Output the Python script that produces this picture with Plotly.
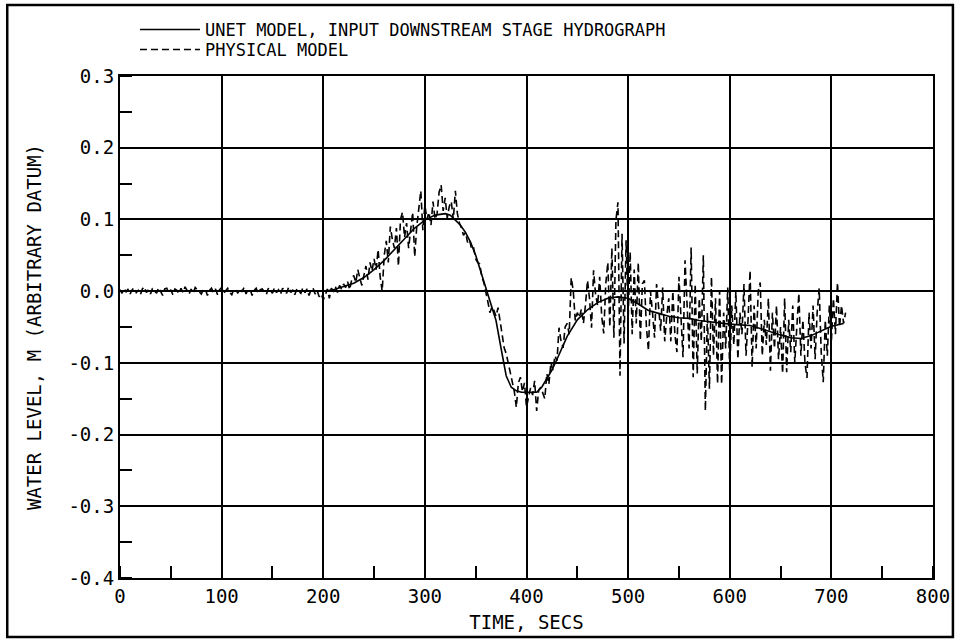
import plotly.graph_objects as go

# ---------------- data ----------------
# Physical model water level (m), sampled every 2 s from 0 to 714 s
phys_t = list(range(0, 716, 2))
phys_y = [
    # 0-198
    0.002, -0.003, 0.004, -0.001, 0.003, -0.004, 0.002, 0.005, -0.002, 0.001,
    -0.005, 0.003, 0.006, -0.002, 0.002, -0.004, 0.004, 0.001, -0.003, 0.005,
    0.000, -0.006, 0.003, 0.004, -0.002, 0.002, -0.005, 0.003, 0.001, -0.003,
    0.004, -0.002, 0.006, 0.000, -0.004, 0.003, -0.003, 0.005, 0.002, -0.001,
    -0.004, 0.002, 0.003, -0.006, 0.001, 0.004, -0.002, 0.003, -0.005, 0.002,
    0.005, -0.003, 0.001, 0.004, -0.002, -0.005, 0.003, 0.002, -0.003, 0.004,
    -0.001, 0.005, -0.004, 0.002, 0.003, -0.006, 0.001, 0.004, -0.003, 0.002,
    0.003, -0.002, -0.005, 0.004, 0.001, -0.003, 0.005, -0.002, 0.002, -0.004,
    0.004, 0.001, -0.003, 0.006, -0.002, 0.002, -0.005, 0.003, 0.000, -0.003,
    0.005, -0.002, 0.003, -0.006, 0.002, 0.004, -0.004, 0.001, -0.008, -0.004,
    # 200-478
    -0.012, -0.006, 0.003, -0.010, 0.004, 0.000, 0.006, -0.002, 0.008, 0.003,
    0.010, 0.005, 0.013, 0.002, 0.016, 0.022, 0.012, 0.030, 0.018, 0.008,
    0.022, 0.035, 0.016, 0.040, 0.028, 0.045, 0.030, 0.058, 0.020, 0.000,
    0.050, 0.070, 0.040, 0.090, 0.072, 0.060, 0.088, 0.035, 0.100, 0.110,
    0.075, 0.095, 0.060, 0.085, 0.110, 0.048, 0.090, 0.115, 0.140, 0.085,
    0.120, 0.100, 0.110, 0.092, 0.125, 0.100, 0.108, 0.138, 0.148, 0.112,
    0.130, 0.102, 0.118, 0.125, 0.100, 0.140, 0.108, 0.095, 0.088, 0.078,
    0.082, 0.068, 0.072, 0.058, 0.060, 0.045, 0.040, 0.038, 0.020, 0.012,
    0.000, -0.015, -0.030, -0.022, -0.027, -0.035, -0.023, -0.045, -0.060, -0.079,
    -0.087, -0.100, -0.115, -0.130, -0.140, -0.162, -0.128, -0.120, -0.140, -0.128,
    -0.162, -0.148, -0.135, -0.145, -0.125, -0.167, -0.138, -0.134, -0.143, -0.150,
    -0.115, -0.130, -0.100, -0.110, -0.090, -0.097, -0.051, -0.070, -0.079, -0.050,
    -0.045, -0.060, 0.019, 0.001, -0.041, -0.030, -0.037, -0.025, -0.045, -0.020,
    0.015, -0.010, -0.051, 0.029, -0.005, -0.020, 0.020, -0.035, -0.059, 0.010,
    # 480-714
    0.040, -0.050, 0.060, -0.065, 0.099, 0.124, -0.118, 0.080, -0.073, 0.071,
    -0.040, 0.055, -0.060, 0.030, -0.045, 0.040, -0.069, 0.010, 0.015, -0.050,
    -0.083, 0.000, -0.030, -0.065, 0.010, -0.020, -0.055, 0.005, -0.070, -0.035,
    -0.010, -0.070, 0.000, -0.060, -0.085, 0.020, -0.040, -0.092, 0.043, -0.030,
    -0.080, 0.061, -0.120, 0.010, -0.115, -0.010, -0.070, 0.050, -0.167, -0.030,
    -0.136, 0.020, -0.090, -0.010, -0.129, 0.000, -0.130, -0.030, -0.080, 0.005,
    -0.115, -0.020, -0.075, 0.000, -0.095, -0.030, -0.060, 0.010, -0.090, -0.040,
    0.029, -0.106, -0.020, -0.080, 0.000, 0.012, -0.090, -0.040, -0.075, -0.010,
    -0.111, -0.030, -0.080, -0.020, -0.095, -0.050, -0.115, -0.010, -0.113, -0.040,
    -0.085, -0.020, -0.100, -0.050, -0.003, -0.090, -0.040, -0.100, -0.121, -0.030,
    -0.080, -0.020, -0.095, -0.030, 0.004, -0.085, -0.127, -0.040, -0.090, -0.020,
    -0.070, -0.010, -0.060, 0.012, -0.050, -0.020, -0.045, -0.030,
]

# UNET model, input downstream stage hydrograph
unet_t = [0, 50, 100, 150, 200, 205, 210, 215, 220, 225, 230,
          240, 250, 260, 270, 280, 290, 300, 310, 320,
          325, 330, 335, 340, 345, 350, 355, 360, 365, 370, 375, 380, 385,
          390, 395, 400, 405, 410, 415, 420, 425, 430, 435, 440,
          450, 460, 470, 480, 490, 500, 510, 520, 530, 540, 550, 560, 570,
          580, 590, 600, 610, 620, 630, 640, 650, 660, 670, 680, 690, 700, 712]
unet_y = [0.0, 0.0, 0.0, 0.0, 0.0, 0.001, 0.002, 0.004, 0.006, 0.008, 0.011,
          0.019, 0.030, 0.043, 0.058, 0.073, 0.088, 0.099, 0.106, 0.108,
          0.106, 0.099, 0.092, 0.082, 0.068, 0.050, 0.027, 0.003, -0.019, -0.041, -0.080, -0.118, -0.134,
          -0.139, -0.141, -0.141, -0.141, -0.141, -0.134, -0.122, -0.110, -0.095, -0.080, -0.063,
          -0.040, -0.026, -0.016, -0.010, -0.008, -0.010, -0.018, -0.027, -0.031, -0.035, -0.037, -0.038, -0.041,
          -0.043, -0.045, -0.046, -0.047, -0.048, -0.052, -0.057, -0.061, -0.065, -0.066, -0.062, -0.055, -0.049, -0.045]

x_tickvals = [0, 100, 200, 300, 400, 500, 600, 700, 800]
x_ticktext = ["0", "100", "200", "300", "400", "500", "600", "700", "800"]
y_tickvals = [0.3, 0.2, 0.1, 0.0, -0.1, -0.2, -0.3, -0.4]
y_ticktext = ["0.3", "0.2", "0.1", "0.0", "-0.1", "-0.2", "-0.3", "-0.4"]

FONT = "DejaVu Sans Mono"
FS = 19
LFS = 17

fig = go.Figure()
fig.add_trace(go.Scatter(
    x=unet_t, y=unet_y, mode="lines",
    name="UNET MODEL, INPUT DOWNSTREAM STAGE HYDROGRAPH",
    line=dict(color="black", width=1.6),
    legend="legend",
))
fig.add_trace(go.Scatter(
    x=phys_t, y=phys_y, mode="lines",
    name="PHYSICAL MODEL",
    line=dict(color="black", width=1.6, dash="7px,4px"),
    legend="legend2",
))

axis_common = dict(
    showline=True, linecolor="black", linewidth=2, mirror=True,
    showgrid=True, gridcolor="black", gridwidth=1.5,
    zeroline=False, ticks="", color="black",
    tickfont=dict(family=FONT, size=FS, color="black"),
)

fig.update_xaxes(
    range=[0, 800], tickvals=x_tickvals, ticktext=x_ticktext,
    title=dict(text="TIME, SECS", font=dict(family=FONT, size=FS, color="black"), standoff=10),
    minor=dict(ticks="inside", dtick=50, tick0=0, ticklen=12, tickwidth=1.5,
               tickcolor="black", showgrid=False),
    **axis_common,
)
fig.update_yaxes(
    range=[-0.4, 0.3], tickvals=y_tickvals, ticktext=y_ticktext,
    title=dict(text="WATER LEVEL, M (ARBITRARY DATUM)", font=dict(family=FONT, size=FS, color="black"), standoff=22),
    minor=dict(ticks="inside", dtick=0.05, tick0=0, ticklen=12, tickwidth=1.5,
               tickcolor="black", showgrid=False),
    **axis_common,
)

legend_common = dict(
    xanchor="left", yanchor="middle",
    font=dict(family=FONT, size=LFS, color="black"),
    bgcolor="rgba(0,0,0,0)", itemwidth=60,
)

fig.update_layout(
    width=962, height=643,
    margin=dict(l=120, r=27, t=76, b=65),
    paper_bgcolor="white", plot_bgcolor="white",
    font=dict(family=FONT, size=FS, color="black"),
    showlegend=True,
    legend=dict(x=0.0184, y=1.0916, **legend_common),
    legend2=dict(x=0.0184, y=1.0518, **legend_common),
    shapes=[dict(
        type="rect", xref="paper", yref="paper",
        x0=-0.1387, x1=1.0245, y0=-0.1175, y1=1.1414,
        line=dict(color="black", width=2.5), fillcolor="rgba(0,0,0,0)", layer="below",
    )],
)

fig.write_html("out.html")
